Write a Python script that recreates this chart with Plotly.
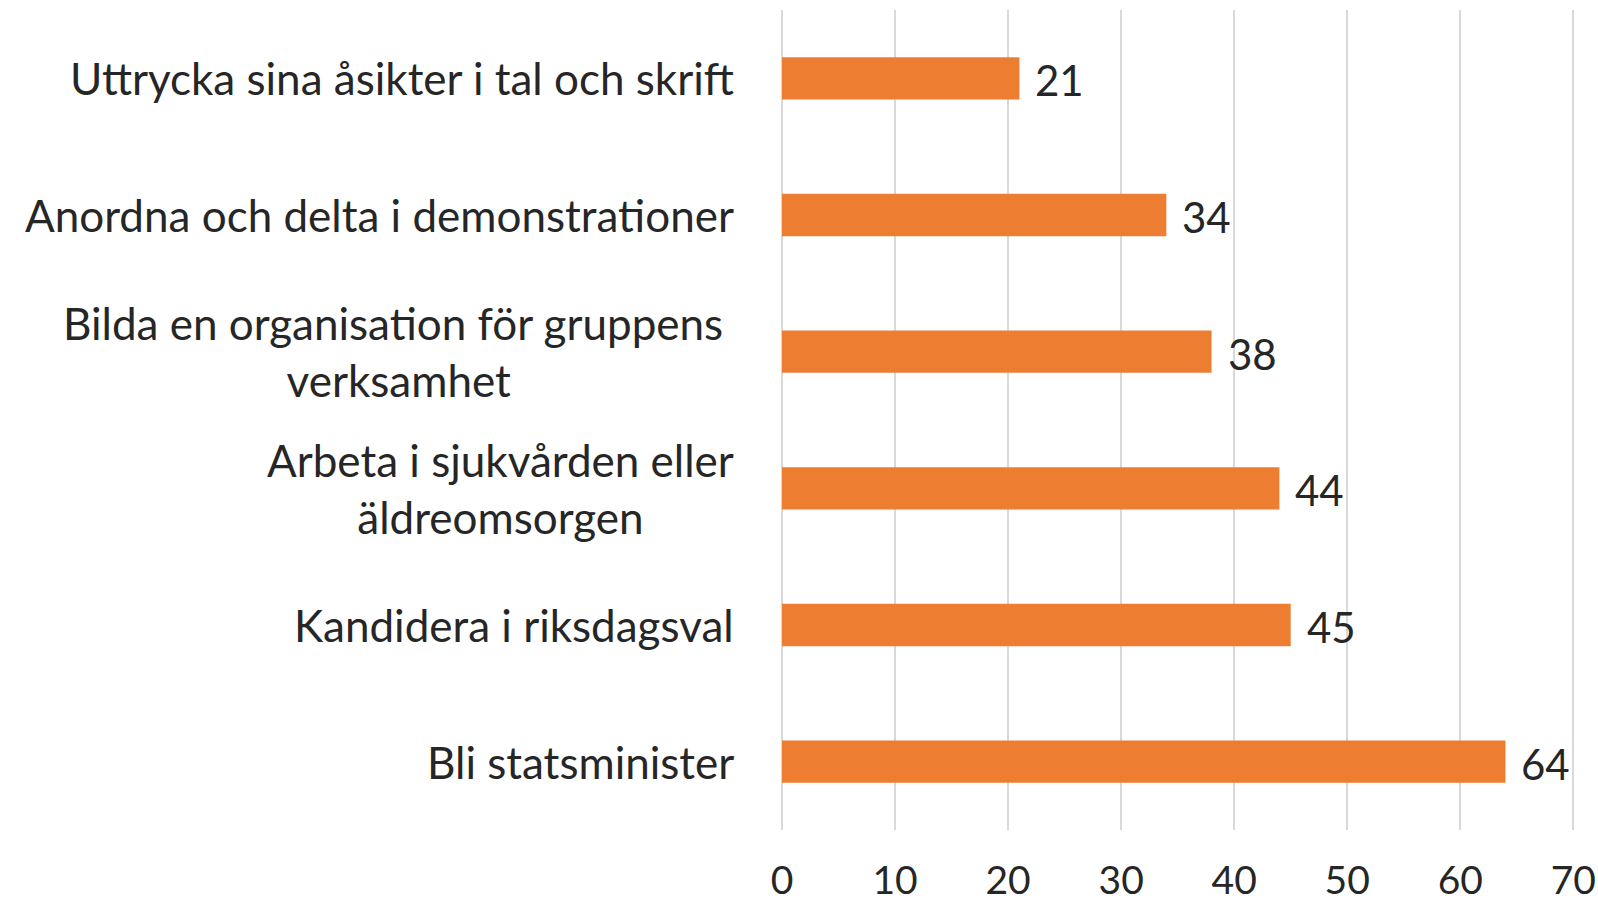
import plotly.graph_objects as go

categories = [
    "Uttrycka sina åsikter i tal och skrift",
    "Anordna och delta i demonstrationer",
    "Bilda en organisation för gruppens <br>verksamhet",
    "Arbeta i sjukvården eller<br>äldreomsorgen",
    "Kandidera i riksdagsval",
    "Bli statsminister",
]
values = [21, 34, 38, 44, 45, 64]
x_ticks = [0, 10, 20, 30, 40, 50, 60, 70]

FONT = "Lato"
TXT = "#262626"

fig = go.Figure()
fig.add_trace(go.Bar(
    y=list(range(len(categories))),
    x=values,
    orientation="h",
    marker=dict(color="#ED7D31", line=dict(width=0)),
    hoverinfo="skip",
))

for i, (c, v) in enumerate(zip(categories, values)):
    fig.add_annotation(
        x=0, y=i, xref="paper", yref="y", text=c, showarrow=False,
        xanchor="right", yanchor="middle", align="center", xshift=-46,
        font=dict(family=FONT, size=44, color=TXT),
    )
    fig.add_annotation(
        x=v, y=i, xref="x", yref="y", text=str(v), showarrow=False,
        xanchor="left", yanchor="middle", xshift=14, yshift=-2,
        font=dict(family=FONT, size=42, color=TXT),
    )

fig.update_layout(
    template="none",
    width=1598, height=902,
    margin=dict(l=781.5, r=23.3, t=10, b=72, autoexpand=False),
    paper_bgcolor="white", plot_bgcolor="white",
    bargap=0.69,
    showlegend=False,
    font=dict(family=FONT, color=TXT),
)
fig.update_xaxes(
    range=[0, 70.15], tickvals=x_ticks, ticktext=[str(t) for t in x_ticks],
    showgrid=True, gridcolor="#D9D9D9", gridwidth=1.5,
    zeroline=True, zerolinecolor="#D9D9D9", zerolinewidth=1.5,
    showline=False, ticks="", ticklabelstandoff=24,
    ticklabeloverflow="allow", automargin=False,
    tickfont=dict(family=FONT, size=39, color=TXT),
)
fig.update_yaxes(
    range=[5.5, -0.5], showticklabels=False, showgrid=False,
    zeroline=False, showline=False, ticks="", automargin=False,
)

fig.write_html(
    "out.html",
    config={"displayModeBar": False},
    post_script="document.body.style.margin='0';document.body.style.overflow='hidden';",
)
